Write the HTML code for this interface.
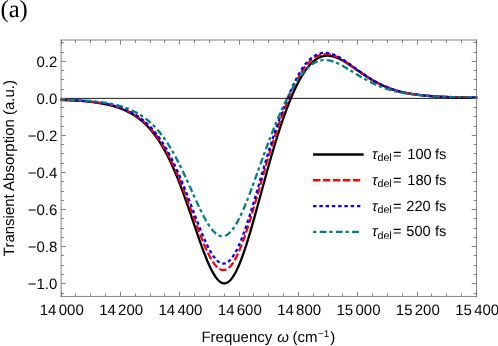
<!DOCTYPE html>
<html><head><meta charset="utf-8"><title>fig</title><style>
html,body{margin:0;padding:0;background:#fff;}
body{width:498px;height:346px;overflow:hidden;position:relative;}
svg{position:absolute;left:0;top:0;will-change:transform;}
text{font-family:"Liberation Sans",sans-serif;fill:#000;text-rendering:geometricPrecision;}
.tk{font-size:15px;}
.lg{font-size:14.6px;}
.ax{font-size:15px;}
.ser{font-family:"Liberation Serif",serif;}
</style></head><body>
<svg width="498" height="346" viewBox="0 0 498 346">
<rect x="0" y="0" width="498" height="346" fill="#fff"/>
<text class="ser" x="0.5" y="17.1" font-size="24.6">(a)</text>
<defs><clipPath id="cp"><rect x="59.949999999999996" y="40.0" width="417.55" height="256.45"/></clipPath></defs>
<g clip-path="url(#cp)" fill="none" stroke-linejoin="round">
<path d="M59.65,99.92 L60.15,99.94 L60.65,99.95 L61.15,99.96 L61.65,99.98 L62.15,99.99 L62.65,100.01 L63.15,100.02 L63.65,100.04 L64.15,100.05 L64.65,100.07 L65.15,100.09 L65.65,100.11 L66.15,100.12 L66.65,100.14 L67.15,100.16 L67.65,100.18 L68.15,100.20 L68.65,100.22 L69.15,100.24 L69.65,100.26 L70.15,100.28 L70.65,100.31 L71.15,100.33 L71.65,100.35 L72.15,100.38 L72.65,100.40 L73.15,100.43 L73.65,100.45 L74.15,100.48 L74.65,100.51 L75.15,100.54 L75.65,100.57 L76.15,100.60 L76.65,100.63 L77.15,100.66 L77.65,100.69 L78.15,100.72 L78.65,100.75 L79.15,100.79 L79.65,100.82 L80.15,100.86 L80.65,100.90 L81.15,100.93 L81.65,100.97 L82.15,101.01 L82.65,101.05 L83.15,101.09 L83.65,101.14 L84.15,101.18 L84.65,101.22 L85.15,101.27 L85.65,101.32 L86.15,101.36 L86.65,101.41 L87.15,101.46 L87.65,101.52 L88.15,101.57 L88.65,101.62 L89.15,101.68 L89.65,101.73 L90.15,101.79 L90.65,101.85 L91.15,101.91 L91.65,101.97 L92.15,102.03 L92.65,102.09 L93.15,102.16 L93.65,102.22 L94.15,102.29 L94.65,102.36 L95.15,102.43 L95.65,102.50 L96.15,102.57 L96.65,102.65 L97.15,102.72 L97.65,102.80 L98.15,102.88 L98.65,102.96 L99.15,103.04 L99.65,103.12 L100.15,103.21 L100.65,103.29 L101.15,103.38 L101.65,103.47 L102.15,103.56 L102.65,103.65 L103.15,103.75 L103.65,103.84 L104.15,103.94 L104.65,104.04 L105.15,104.15 L105.65,104.25 L106.15,104.36 L106.65,104.47 L107.15,104.58 L107.65,104.69 L108.15,104.81 L108.65,104.92 L109.15,105.04 L109.65,105.17 L110.15,105.29 L110.65,105.42 L111.15,105.55 L111.65,105.68 L112.15,105.81 L112.65,105.95 L113.15,106.09 L113.65,106.23 L114.15,106.38 L114.65,106.53 L115.15,106.68 L115.65,106.84 L116.15,106.99 L116.65,107.15 L117.15,107.32 L117.65,107.48 L118.15,107.65 L118.65,107.83 L119.15,108.01 L119.65,108.19 L120.15,108.37 L120.65,108.56 L121.15,108.75 L121.65,108.95 L122.15,109.14 L122.65,109.35 L123.15,109.55 L123.65,109.77 L124.15,109.98 L124.65,110.20 L125.15,110.42 L125.65,110.65 L126.15,110.88 L126.65,111.12 L127.15,111.36 L127.65,111.61 L128.15,111.86 L128.65,112.12 L129.15,112.38 L129.65,112.64 L130.15,112.91 L130.65,113.19 L131.15,113.47 L131.65,113.76 L132.15,114.05 L132.65,114.35 L133.15,114.66 L133.65,114.97 L134.15,115.28 L134.65,115.60 L135.15,115.93 L135.65,116.27 L136.15,116.61 L136.65,116.95 L137.15,117.31 L137.65,117.67 L138.15,118.03 L138.65,118.41 L139.15,118.79 L139.65,119.18 L140.15,119.57 L140.65,119.97 L141.15,120.38 L141.65,120.80 L142.15,121.23 L142.65,121.66 L143.15,122.10 L143.65,122.55 L144.15,123.01 L144.65,123.47 L145.15,123.95 L145.65,124.43 L146.15,124.92 L146.65,125.42 L147.15,125.93 L147.65,126.45 L148.15,126.98 L148.65,127.52 L149.15,128.06 L149.65,128.62 L150.15,129.18 L150.65,129.76 L151.15,130.35 L151.65,130.94 L152.15,131.55 L152.65,132.16 L153.15,132.79 L153.65,133.43 L154.15,134.08 L154.65,134.74 L155.15,135.41 L155.65,136.09 L156.15,136.78 L156.65,137.48 L157.15,138.20 L157.65,138.92 L158.15,139.66 L158.65,140.41 L159.15,141.18 L159.65,141.95 L160.15,142.74 L160.65,143.53 L161.15,144.35 L161.65,145.17 L162.15,146.00 L162.65,146.85 L163.15,147.71 L163.65,148.59 L164.15,149.47 L164.65,150.37 L165.15,151.29 L165.65,152.21 L166.15,153.15 L166.65,154.10 L167.15,155.07 L167.65,156.05 L168.15,157.04 L168.65,158.04 L169.15,159.06 L169.65,160.09 L170.15,161.14 L170.65,162.20 L171.15,163.27 L171.65,164.36 L172.15,165.45 L172.65,166.57 L173.15,167.69 L173.65,168.83 L174.15,169.98 L174.65,171.14 L175.15,172.32 L175.65,173.51 L176.15,174.71 L176.65,175.93 L177.15,177.16 L177.65,178.40 L178.15,179.65 L178.65,180.92 L179.15,182.19 L179.65,183.48 L180.15,184.78 L180.65,186.09 L181.15,187.41 L181.65,188.75 L182.15,190.09 L182.65,191.44 L183.15,192.81 L183.65,194.18 L184.15,195.57 L184.65,196.96 L185.15,198.36 L185.65,199.77 L186.15,201.18 L186.65,202.61 L187.15,204.04 L187.65,205.48 L188.15,206.92 L188.65,208.37 L189.15,209.83 L189.65,211.29 L190.15,212.75 L190.65,214.22 L191.15,215.69 L191.65,217.17 L192.15,218.65 L192.65,220.12 L193.15,221.60 L193.65,223.08 L194.15,224.56 L194.65,226.04 L195.15,227.51 L195.65,228.99 L196.15,230.46 L196.65,231.92 L197.15,233.38 L197.65,234.84 L198.15,236.29 L198.65,237.73 L199.15,239.17 L199.65,240.60 L200.15,242.01 L200.65,243.42 L201.15,244.82 L201.65,246.20 L202.15,247.58 L202.65,248.93 L203.15,250.28 L203.65,251.61 L204.15,252.92 L204.65,254.22 L205.15,255.49 L205.65,256.76 L206.15,258.00 L206.65,259.23 L207.15,260.44 L207.65,261.62 L208.15,262.79 L208.65,263.93 L209.15,265.05 L209.65,266.15 L210.15,267.22 L210.65,268.26 L211.15,269.28 L211.65,270.26 L212.15,271.22 L212.65,272.14 L213.15,273.03 L213.65,273.89 L214.15,274.71 L214.65,275.51 L215.15,276.26 L215.65,276.99 L216.15,277.67 L216.65,278.33 L217.15,278.94 L217.65,279.52 L218.15,280.06 L218.65,280.56 L219.15,281.02 L219.65,281.44 L220.15,281.82 L220.65,282.16 L221.15,282.46 L221.65,282.71 L222.15,282.92 L222.65,283.09 L223.15,283.22 L223.65,283.30 L224.15,283.33 L224.65,283.32 L225.15,283.27 L225.65,283.17 L226.15,283.02 L226.65,282.83 L227.15,282.60 L227.65,282.33 L228.15,282.00 L228.65,281.64 L229.15,281.23 L229.65,280.78 L230.15,280.29 L230.65,279.76 L231.15,279.18 L231.65,278.56 L232.15,277.91 L232.65,277.21 L233.15,276.47 L233.65,275.70 L234.15,274.88 L234.65,274.03 L235.15,273.14 L235.65,272.21 L236.15,271.24 L236.65,270.23 L237.15,269.19 L237.65,268.12 L238.15,267.01 L238.65,265.86 L239.15,264.69 L239.65,263.48 L240.15,262.24 L240.65,260.98 L241.15,259.68 L241.65,258.36 L242.15,257.01 L242.65,255.64 L243.15,254.24 L243.65,252.82 L244.15,251.37 L244.65,249.90 L245.15,248.40 L245.65,246.88 L246.15,245.34 L246.65,243.78 L247.15,242.20 L247.65,240.60 L248.15,238.98 L248.65,237.34 L249.15,235.68 L249.65,234.01 L250.15,232.32 L250.65,230.62 L251.15,228.91 L251.65,227.18 L252.15,225.44 L252.65,223.69 L253.15,221.93 L253.65,220.15 L254.15,218.37 L254.65,216.58 L255.15,214.79 L255.65,212.98 L256.15,211.17 L256.65,209.36 L257.15,207.54 L257.65,205.71 L258.15,203.88 L258.65,202.05 L259.15,200.22 L259.65,198.38 L260.15,196.55 L260.65,194.71 L261.15,192.88 L261.65,191.04 L262.15,189.21 L262.65,187.38 L263.15,185.55 L263.65,183.72 L264.15,181.90 L264.65,180.08 L265.15,178.26 L265.65,176.45 L266.15,174.65 L266.65,172.85 L267.15,171.06 L267.65,169.27 L268.15,167.49 L268.65,165.72 L269.15,163.95 L269.65,162.19 L270.15,160.45 L270.65,158.71 L271.15,156.97 L271.65,155.25 L272.15,153.54 L272.65,151.84 L273.15,150.14 L273.65,148.46 L274.15,146.79 L274.65,145.13 L275.15,143.48 L275.65,141.84 L276.15,140.22 L276.65,138.60 L277.15,137.00 L277.65,135.41 L278.15,133.83 L278.65,132.26 L279.15,130.71 L279.65,129.17 L280.15,127.65 L280.65,126.13 L281.15,124.63 L281.65,123.15 L282.15,121.68 L282.65,120.22 L283.15,118.77 L283.65,117.34 L284.15,115.93 L284.65,114.53 L285.15,113.14 L285.65,111.77 L286.15,110.41 L286.65,109.07 L287.15,107.75 L287.65,106.43 L288.15,105.14 L288.65,103.86 L289.15,102.59 L289.65,101.34 L290.15,100.11 L290.65,98.89 L291.15,97.69 L291.65,96.51 L292.15,95.34 L292.65,94.18 L293.15,93.05 L293.65,91.93 L294.15,90.82 L294.65,89.74 L295.15,88.67 L295.65,87.61 L296.15,86.58 L296.65,85.56 L297.15,84.55 L297.65,83.57 L298.15,82.60 L298.65,81.65 L299.15,80.71 L299.65,79.79 L300.15,78.89 L300.65,78.01 L301.15,77.14 L301.65,76.30 L302.15,75.47 L302.65,74.65 L303.15,73.86 L303.65,73.08 L304.15,72.32 L304.65,71.57 L305.15,70.85 L305.65,70.14 L306.15,69.45 L306.65,68.78 L307.15,68.12 L307.65,67.49 L308.15,66.87 L308.65,66.26 L309.15,65.68 L309.65,65.11 L310.15,64.56 L310.65,64.03 L311.15,63.52 L311.65,63.02 L312.15,62.54 L312.65,62.08 L313.15,61.63 L313.65,61.20 L314.15,60.79 L314.65,60.39 L315.15,60.02 L315.65,59.66 L316.15,59.31 L316.65,58.98 L317.15,58.67 L317.65,58.38 L318.15,58.10 L318.65,57.84 L319.15,57.59 L319.65,57.36 L320.15,57.15 L320.65,56.95 L321.15,56.76 L321.65,56.59 L322.15,56.44 L322.65,56.30 L323.15,56.18 L323.65,56.07 L324.15,55.97 L324.65,55.89 L325.15,55.82 L325.65,55.77 L326.15,55.73 L326.65,55.70 L327.15,55.69 L327.65,55.69 L328.15,55.70 L328.65,55.73 L329.15,55.77 L329.65,55.82 L330.15,55.88 L330.65,55.95 L331.15,56.04 L331.65,56.13 L332.15,56.24 L332.65,56.35 L333.15,56.48 L333.65,56.62 L334.15,56.77 L334.65,56.93 L335.15,57.09 L335.65,57.27 L336.15,57.45 L336.65,57.65 L337.15,57.85 L337.65,58.06 L338.15,58.28 L338.65,58.50 L339.15,58.74 L339.65,58.98 L340.15,59.23 L340.65,59.48 L341.15,59.74 L341.65,60.01 L342.15,60.28 L342.65,60.56 L343.15,60.84 L343.65,61.13 L344.15,61.43 L344.65,61.73 L345.15,62.03 L345.65,62.34 L346.15,62.65 L346.65,62.96 L347.15,63.28 L347.65,63.61 L348.15,63.93 L348.65,64.26 L349.15,64.59 L349.65,64.93 L350.15,65.26 L350.65,65.60 L351.15,65.94 L351.65,66.29 L352.15,66.63 L352.65,66.98 L353.15,67.32 L353.65,67.67 L354.15,68.02 L354.65,68.37 L355.15,68.72 L355.65,69.07 L356.15,69.42 L356.65,69.77 L357.15,70.12 L357.65,70.47 L358.15,70.82 L358.65,71.17 L359.15,71.52 L359.65,71.86 L360.15,72.21 L360.65,72.56 L361.15,72.90 L361.65,73.24 L362.15,73.59 L362.65,73.93 L363.15,74.27 L363.65,74.60 L364.15,74.94 L364.65,75.27 L365.15,75.60 L365.65,75.93 L366.15,76.26 L366.65,76.58 L367.15,76.91 L367.65,77.23 L368.15,77.55 L368.65,77.86 L369.15,78.17 L369.65,78.48 L370.15,78.79 L370.65,79.10 L371.15,79.40 L371.65,79.70 L372.15,80.00 L372.65,80.29 L373.15,80.58 L373.65,80.87 L374.15,81.15 L374.65,81.43 L375.15,81.71 L375.65,81.99 L376.15,82.26 L376.65,82.53 L377.15,82.80 L377.65,83.06 L378.15,83.32 L378.65,83.58 L379.15,83.83 L379.65,84.08 L380.15,84.33 L380.65,84.58 L381.15,84.82 L381.65,85.06 L382.15,85.29 L382.65,85.52 L383.15,85.75 L383.65,85.98 L384.15,86.20 L384.65,86.42 L385.15,86.63 L385.65,86.85 L386.15,87.06 L386.65,87.26 L387.15,87.47 L387.65,87.67 L388.15,87.87 L388.65,88.06 L389.15,88.25 L389.65,88.44 L390.15,88.63 L390.65,88.81 L391.15,88.99 L391.65,89.17 L392.15,89.35 L392.65,89.52 L393.15,89.69 L393.65,89.85 L394.15,90.02 L394.65,90.18 L395.15,90.34 L395.65,90.49 L396.15,90.64 L396.65,90.79 L397.15,90.93 L397.65,91.08 L398.15,91.21 L398.65,91.35 L399.15,91.48 L399.65,91.61 L400.15,91.74 L400.65,91.86 L401.15,91.98 L401.65,92.10 L402.15,92.21 L402.65,92.32 L403.15,92.43 L403.65,92.54 L404.15,92.64 L404.65,92.75 L405.15,92.85 L405.65,92.94 L406.15,93.04 L406.65,93.13 L407.15,93.22 L407.65,93.31 L408.15,93.40 L408.65,93.49 L409.15,93.57 L409.65,93.65 L410.15,93.73 L410.65,93.81 L411.15,93.89 L411.65,93.96 L412.15,94.04 L412.65,94.11 L413.15,94.18 L413.65,94.25 L414.15,94.32 L414.65,94.39 L415.15,94.46 L415.65,94.53 L416.15,94.59 L416.65,94.66 L417.15,94.72 L417.65,94.78 L418.15,94.85 L418.65,94.91 L419.15,94.97 L419.65,95.03 L420.15,95.09 L420.65,95.15 L421.15,95.21 L421.65,95.27 L422.15,95.32 L422.65,95.38 L423.15,95.43 L423.65,95.49 L424.15,95.54 L424.65,95.59 L425.15,95.64 L425.65,95.69 L426.15,95.73 L426.65,95.78 L427.15,95.83 L427.65,95.87 L428.15,95.91 L428.65,95.96 L429.15,96.00 L429.65,96.04 L430.15,96.08 L430.65,96.12 L431.15,96.16 L431.65,96.20 L432.15,96.23 L432.65,96.27 L433.15,96.30 L433.65,96.34 L434.15,96.37 L434.65,96.41 L435.15,96.44 L435.65,96.47 L436.15,96.50 L436.65,96.53 L437.15,96.56 L437.65,96.59 L438.15,96.62 L438.65,96.65 L439.15,96.68 L439.65,96.70 L440.15,96.73 L440.65,96.75 L441.15,96.78 L441.65,96.80 L442.15,96.83 L442.65,96.85 L443.15,96.87 L443.65,96.90 L444.15,96.92 L444.65,96.94 L445.15,96.96 L445.65,96.98 L446.15,97.00 L446.65,97.02 L447.15,97.04 L447.65,97.06 L448.15,97.08 L448.65,97.10 L449.15,97.12 L449.65,97.13 L450.15,97.15 L450.65,97.17 L451.15,97.18 L451.65,97.20 L452.15,97.21 L452.65,97.23 L453.15,97.25 L453.65,97.26 L454.15,97.27 L454.65,97.29 L455.15,97.30 L455.65,97.32 L456.15,97.33 L456.65,97.34 L457.15,97.35 L457.65,97.37 L458.15,97.38 L458.65,97.39 L459.15,97.40 L459.65,97.41 L460.15,97.42 L460.65,97.44 L461.15,97.45 L461.65,97.46 L462.15,97.47 L462.65,97.48 L463.15,97.49 L463.65,97.50 L464.15,97.51 L464.65,97.51 L465.15,97.52 L465.65,97.53 L466.15,97.54 L466.65,97.55 L467.15,97.56 L467.65,97.57 L468.15,97.57 L468.65,97.58 L469.15,97.59 L469.65,97.60 L470.15,97.60 L470.65,97.61 L471.15,97.62 L471.65,97.62 L472.15,97.63 L472.65,97.64 L473.15,97.64 L473.65,97.65 L474.15,97.66 L474.65,97.66 L475.15,97.67 L475.65,97.67 L476.15,97.68 L476.65,97.69 L477.15,97.69 L477.65,97.70" stroke="#000000" stroke-width="2.3" stroke-dashoffset="0" stroke-linecap="butt"/>
<path d="M59.65,99.83 L60.15,99.85 L60.65,99.86 L61.15,99.87 L61.65,99.89 L62.15,99.90 L62.65,99.91 L63.15,99.93 L63.65,99.94 L64.15,99.96 L64.65,99.97 L65.15,99.99 L65.65,100.01 L66.15,100.02 L66.65,100.04 L67.15,100.06 L67.65,100.08 L68.15,100.09 L68.65,100.11 L69.15,100.13 L69.65,100.15 L70.15,100.17 L70.65,100.19 L71.15,100.21 L71.65,100.24 L72.15,100.26 L72.65,100.28 L73.15,100.31 L73.65,100.33 L74.15,100.36 L74.65,100.38 L75.15,100.41 L75.65,100.43 L76.15,100.46 L76.65,100.49 L77.15,100.52 L77.65,100.55 L78.15,100.58 L78.65,100.61 L79.15,100.64 L79.65,100.68 L80.15,100.71 L80.65,100.75 L81.15,100.78 L81.65,100.82 L82.15,100.86 L82.65,100.89 L83.15,100.93 L83.65,100.97 L84.15,101.01 L84.65,101.06 L85.15,101.10 L85.65,101.14 L86.15,101.19 L86.65,101.24 L87.15,101.28 L87.65,101.33 L88.15,101.38 L88.65,101.43 L89.15,101.49 L89.65,101.54 L90.15,101.59 L90.65,101.65 L91.15,101.71 L91.65,101.77 L92.15,101.83 L92.65,101.89 L93.15,101.95 L93.65,102.01 L94.15,102.07 L94.65,102.14 L95.15,102.21 L95.65,102.27 L96.15,102.34 L96.65,102.41 L97.15,102.49 L97.65,102.56 L98.15,102.63 L98.65,102.71 L99.15,102.79 L99.65,102.87 L100.15,102.95 L100.65,103.03 L101.15,103.12 L101.65,103.20 L102.15,103.29 L102.65,103.38 L103.15,103.47 L103.65,103.56 L104.15,103.66 L104.65,103.75 L105.15,103.85 L105.65,103.95 L106.15,104.05 L106.65,104.16 L107.15,104.27 L107.65,104.37 L108.15,104.49 L108.65,104.60 L109.15,104.71 L109.65,104.83 L110.15,104.95 L110.65,105.07 L111.15,105.20 L111.65,105.33 L112.15,105.46 L112.65,105.59 L113.15,105.72 L113.65,105.86 L114.15,106.00 L114.65,106.14 L115.15,106.29 L115.65,106.44 L116.15,106.59 L116.65,106.74 L117.15,106.90 L117.65,107.06 L118.15,107.23 L118.65,107.40 L119.15,107.57 L119.65,107.74 L120.15,107.92 L120.65,108.10 L121.15,108.28 L121.65,108.47 L122.15,108.66 L122.65,108.86 L123.15,109.06 L123.65,109.26 L124.15,109.47 L124.65,109.68 L125.15,109.90 L125.65,110.12 L126.15,110.34 L126.65,110.57 L127.15,110.81 L127.65,111.04 L128.15,111.29 L128.65,111.53 L129.15,111.79 L129.65,112.04 L130.15,112.30 L130.65,112.57 L131.15,112.84 L131.65,113.12 L132.15,113.40 L132.65,113.69 L133.15,113.99 L133.65,114.29 L134.15,114.59 L134.65,114.90 L135.15,115.22 L135.65,115.54 L136.15,115.87 L136.65,116.21 L137.15,116.55 L137.65,116.90 L138.15,117.25 L138.65,117.61 L139.15,117.98 L139.65,118.35 L140.15,118.74 L140.65,119.13 L141.15,119.52 L141.65,119.93 L142.15,120.34 L142.65,120.76 L143.15,121.18 L143.65,121.62 L144.15,122.06 L144.65,122.51 L145.15,122.97 L145.65,123.43 L146.15,123.91 L146.65,124.39 L147.15,124.88 L147.65,125.38 L148.15,125.89 L148.65,126.41 L149.15,126.94 L149.65,127.47 L150.15,128.02 L150.65,128.58 L151.15,129.14 L151.65,129.72 L152.15,130.30 L152.65,130.89 L153.15,131.50 L153.65,132.11 L154.15,132.74 L154.65,133.37 L155.15,134.02 L155.65,134.67 L156.15,135.34 L156.65,136.02 L157.15,136.71 L157.65,137.41 L158.15,138.12 L158.65,138.84 L159.15,139.57 L159.65,140.32 L160.15,141.08 L160.65,141.84 L161.15,142.62 L161.65,143.41 L162.15,144.22 L162.65,145.03 L163.15,145.86 L163.65,146.70 L164.15,147.55 L164.65,148.41 L165.15,149.29 L165.65,150.18 L166.15,151.08 L166.65,151.99 L167.15,152.91 L167.65,153.85 L168.15,154.80 L168.65,155.76 L169.15,156.73 L169.65,157.72 L170.15,158.72 L170.65,159.73 L171.15,160.76 L171.65,161.79 L172.15,162.84 L172.65,163.90 L173.15,164.97 L173.65,166.06 L174.15,167.16 L174.65,168.26 L175.15,169.39 L175.65,170.52 L176.15,171.66 L176.65,172.82 L177.15,173.98 L177.65,175.16 L178.15,176.35 L178.65,177.55 L179.15,178.76 L179.65,179.98 L180.15,181.21 L180.65,182.45 L181.15,183.71 L181.65,184.97 L182.15,186.24 L182.65,187.51 L183.15,188.80 L183.65,190.10 L184.15,191.40 L184.65,192.71 L185.15,194.03 L185.65,195.36 L186.15,196.69 L186.65,198.03 L187.15,199.37 L187.65,200.72 L188.15,202.07 L188.65,203.43 L189.15,204.79 L189.65,206.16 L190.15,207.53 L190.65,208.90 L191.15,210.27 L191.65,211.65 L192.15,213.02 L192.65,214.40 L193.15,215.77 L193.65,217.15 L194.15,218.52 L194.65,219.89 L195.15,221.25 L195.65,222.62 L196.15,223.98 L196.65,225.33 L197.15,226.68 L197.65,228.02 L198.15,229.35 L198.65,230.68 L199.15,232.00 L199.65,233.31 L200.15,234.60 L200.65,235.89 L201.15,237.17 L201.65,238.43 L202.15,239.68 L202.65,240.92 L203.15,242.14 L203.65,243.34 L204.15,244.53 L204.65,245.70 L205.15,246.86 L205.65,247.99 L206.15,249.11 L206.65,250.20 L207.15,251.27 L207.65,252.32 L208.15,253.35 L208.65,254.36 L209.15,255.34 L209.65,256.29 L210.15,257.22 L210.65,258.12 L211.15,258.99 L211.65,259.84 L212.15,260.66 L212.65,261.44 L213.15,262.20 L213.65,262.93 L214.15,263.62 L214.65,264.28 L215.15,264.91 L215.65,265.51 L216.15,266.07 L216.65,266.60 L217.15,267.09 L217.65,267.54 L218.15,267.96 L218.65,268.35 L219.15,268.69 L219.65,269.00 L220.15,269.27 L220.65,269.51 L221.15,269.70 L221.65,269.86 L222.15,269.97 L222.65,270.05 L223.15,270.09 L223.65,270.09 L224.15,270.05 L224.65,269.97 L225.15,269.85 L225.65,269.69 L226.15,269.49 L226.65,269.25 L227.15,268.97 L227.65,268.65 L228.15,268.29 L228.65,267.89 L229.15,267.46 L229.65,266.98 L230.15,266.47 L230.65,265.91 L231.15,265.32 L231.65,264.69 L232.15,264.02 L232.65,263.32 L233.15,262.58 L233.65,261.80 L234.15,260.99 L234.65,260.14 L235.15,259.25 L235.65,258.34 L236.15,257.38 L236.65,256.40 L237.15,255.38 L237.65,254.33 L238.15,253.25 L238.65,252.14 L239.15,251.00 L239.65,249.82 L240.15,248.62 L240.65,247.39 L241.15,246.14 L241.65,244.86 L242.15,243.55 L242.65,242.21 L243.15,240.86 L243.65,239.47 L244.15,238.07 L244.65,236.64 L245.15,235.19 L245.65,233.72 L246.15,232.24 L246.65,230.73 L247.15,229.20 L247.65,227.66 L248.15,226.10 L248.65,224.52 L249.15,222.93 L249.65,221.32 L250.15,219.70 L250.65,218.06 L251.15,216.42 L251.65,214.76 L252.15,213.09 L252.65,211.41 L253.15,209.73 L253.65,208.03 L254.15,206.32 L254.65,204.61 L255.15,202.89 L255.65,201.17 L256.15,199.44 L256.65,197.70 L257.15,195.96 L257.65,194.22 L258.15,192.47 L258.65,190.73 L259.15,188.98 L259.65,187.23 L260.15,185.48 L260.65,183.72 L261.15,181.97 L261.65,180.22 L262.15,178.48 L262.65,176.73 L263.15,174.99 L263.65,173.25 L264.15,171.51 L264.65,169.78 L265.15,168.05 L265.65,166.34 L266.15,164.63 L266.65,162.92 L267.15,161.23 L267.65,159.54 L268.15,157.86 L268.65,156.19 L269.15,154.53 L269.65,152.87 L270.15,151.23 L270.65,149.59 L271.15,147.97 L271.65,146.35 L272.15,144.74 L272.65,143.14 L273.15,141.56 L273.65,139.98 L274.15,138.41 L274.65,136.86 L275.15,135.31 L275.65,133.79 L276.15,132.27 L276.65,130.77 L277.15,129.28 L277.65,127.81 L278.15,126.34 L278.65,124.90 L279.15,123.46 L279.65,122.04 L280.15,120.63 L280.65,119.23 L281.15,117.85 L281.65,116.48 L282.15,115.12 L282.65,113.78 L283.15,112.44 L283.65,111.13 L284.15,109.83 L284.65,108.55 L285.15,107.29 L285.65,106.04 L286.15,104.80 L286.65,103.57 L287.15,102.36 L287.65,101.15 L288.15,99.95 L288.65,98.76 L289.15,97.57 L289.65,96.39 L290.15,95.21 L290.65,94.04 L291.15,92.88 L291.65,91.72 L292.15,90.58 L292.65,89.45 L293.15,88.33 L293.65,87.22 L294.15,86.13 L294.65,85.06 L295.15,84.01 L295.65,82.97 L296.15,81.96 L296.65,80.96 L297.15,79.99 L297.65,79.04 L298.15,78.10 L298.65,77.18 L299.15,76.27 L299.65,75.38 L300.15,74.50 L300.65,73.65 L301.15,72.81 L301.65,71.99 L302.15,71.19 L302.65,70.41 L303.15,69.65 L303.65,68.91 L304.15,68.20 L304.65,67.50 L305.15,66.83 L305.65,66.18 L306.15,65.56 L306.65,64.95 L307.15,64.36 L307.65,63.79 L308.15,63.24 L308.65,62.70 L309.15,62.18 L309.65,61.68 L310.15,61.19 L310.65,60.72 L311.15,60.27 L311.65,59.84 L312.15,59.42 L312.65,59.02 L313.15,58.63 L313.65,58.27 L314.15,57.92 L314.65,57.58 L315.15,57.26 L315.65,56.96 L316.15,56.67 L316.65,56.40 L317.15,56.15 L317.65,55.91 L318.15,55.69 L318.65,55.48 L319.15,55.29 L319.65,55.11 L320.15,54.95 L320.65,54.80 L321.15,54.67 L321.65,54.55 L322.15,54.44 L322.65,54.35 L323.15,54.28 L323.65,54.22 L324.15,54.17 L324.65,54.13 L325.15,54.11 L325.65,54.10 L326.15,54.11 L326.65,54.13 L327.15,54.15 L327.65,54.20 L328.15,54.25 L328.65,54.32 L329.15,54.39 L329.65,54.48 L330.15,54.58 L330.65,54.69 L331.15,54.81 L331.65,54.94 L332.15,55.08 L332.65,55.23 L333.15,55.39 L333.65,55.56 L334.15,55.74 L334.65,55.93 L335.15,56.13 L335.65,56.33 L336.15,56.55 L336.65,56.77 L337.15,57.00 L337.65,57.24 L338.15,57.48 L338.65,57.73 L339.15,57.99 L339.65,58.25 L340.15,58.52 L340.65,58.80 L341.15,59.08 L341.65,59.37 L342.15,59.66 L342.65,59.96 L343.15,60.27 L343.65,60.57 L344.15,60.89 L344.65,61.20 L345.15,61.52 L345.65,61.85 L346.15,62.17 L346.65,62.51 L347.15,62.84 L347.65,63.18 L348.15,63.52 L348.65,63.86 L349.15,64.20 L349.65,64.55 L350.15,64.90 L350.65,65.25 L351.15,65.60 L351.65,65.95 L352.15,66.31 L352.65,66.66 L353.15,67.02 L353.65,67.37 L354.15,67.73 L354.65,68.09 L355.15,68.45 L355.65,68.80 L356.15,69.16 L356.65,69.52 L357.15,69.87 L357.65,70.23 L358.15,70.59 L358.65,70.94 L359.15,71.29 L359.65,71.65 L360.15,72.00 L360.65,72.35 L361.15,72.70 L361.65,73.05 L362.15,73.39 L362.65,73.74 L363.15,74.08 L363.65,74.42 L364.15,74.76 L364.65,75.09 L365.15,75.43 L365.65,75.76 L366.15,76.09 L366.65,76.42 L367.15,76.74 L367.65,77.06 L368.15,77.38 L368.65,77.70 L369.15,78.02 L369.65,78.33 L370.15,78.64 L370.65,78.95 L371.15,79.25 L371.65,79.55 L372.15,79.85 L372.65,80.14 L373.15,80.43 L373.65,80.72 L374.15,81.01 L374.65,81.29 L375.15,81.57 L375.65,81.85 L376.15,82.12 L376.65,82.39 L377.15,82.66 L377.65,82.92 L378.15,83.19 L378.65,83.44 L379.15,83.70 L379.65,83.95 L380.15,84.20 L380.65,84.44 L381.15,84.68 L381.65,84.92 L382.15,85.16 L382.65,85.39 L383.15,85.62 L383.65,85.85 L384.15,86.07 L384.65,86.29 L385.15,86.51 L385.65,86.72 L386.15,86.93 L386.65,87.14 L387.15,87.34 L387.65,87.54 L388.15,87.74 L388.65,87.94 L389.15,88.13 L389.65,88.32 L390.15,88.51 L390.65,88.69 L391.15,88.87 L391.65,89.05 L392.15,89.22 L392.65,89.40 L393.15,89.57 L393.65,89.73 L394.15,89.90 L394.65,90.06 L395.15,90.22 L395.65,90.37 L396.15,90.52 L396.65,90.67 L397.15,90.82 L397.65,90.96 L398.15,91.10 L398.65,91.23 L399.15,91.37 L399.65,91.50 L400.15,91.62 L400.65,91.75 L401.15,91.87 L401.65,91.99 L402.15,92.10 L402.65,92.21 L403.15,92.32 L403.65,92.43 L404.15,92.54 L404.65,92.64 L405.15,92.74 L405.65,92.84 L406.15,92.93 L406.65,93.03 L407.15,93.12 L407.65,93.21 L408.15,93.30 L408.65,93.38 L409.15,93.47 L409.65,93.55 L410.15,93.63 L410.65,93.71 L411.15,93.79 L411.65,93.87 L412.15,93.94 L412.65,94.02 L413.15,94.09 L413.65,94.16 L414.15,94.23 L414.65,94.30 L415.15,94.37 L415.65,94.44 L416.15,94.50 L416.65,94.57 L417.15,94.63 L417.65,94.70 L418.15,94.76 L418.65,94.82 L419.15,94.89 L419.65,94.95 L420.15,95.01 L420.65,95.07 L421.15,95.13 L421.65,95.19 L422.15,95.24 L422.65,95.30 L423.15,95.35 L423.65,95.41 L424.15,95.46 L424.65,95.51 L425.15,95.56 L425.65,95.61 L426.15,95.66 L426.65,95.71 L427.15,95.75 L427.65,95.80 L428.15,95.84 L428.65,95.89 L429.15,95.93 L429.65,95.97 L430.15,96.01 L430.65,96.05 L431.15,96.09 L431.65,96.13 L432.15,96.17 L432.65,96.20 L433.15,96.24 L433.65,96.28 L434.15,96.31 L434.65,96.34 L435.15,96.38 L435.65,96.41 L436.15,96.44 L436.65,96.47 L437.15,96.50 L437.65,96.53 L438.15,96.56 L438.65,96.59 L439.15,96.62 L439.65,96.65 L440.15,96.67 L440.65,96.70 L441.15,96.72 L441.65,96.75 L442.15,96.77 L442.65,96.80 L443.15,96.82 L443.65,96.85 L444.15,96.87 L444.65,96.89 L445.15,96.91 L445.65,96.93 L446.15,96.95 L446.65,96.97 L447.15,96.99 L447.65,97.01 L448.15,97.03 L448.65,97.05 L449.15,97.07 L449.65,97.09 L450.15,97.11 L450.65,97.12 L451.15,97.14 L451.65,97.16 L452.15,97.17 L452.65,97.19 L453.15,97.20 L453.65,97.22 L454.15,97.23 L454.65,97.25 L455.15,97.26 L455.65,97.28 L456.15,97.29 L456.65,97.30 L457.15,97.32 L457.65,97.33 L458.15,97.34 L458.65,97.35 L459.15,97.37 L459.65,97.38 L460.15,97.39 L460.65,97.40 L461.15,97.41 L461.65,97.42 L462.15,97.43 L462.65,97.44 L463.15,97.45 L463.65,97.46 L464.15,97.47 L464.65,97.48 L465.15,97.49 L465.65,97.50 L466.15,97.51 L466.65,97.52 L467.15,97.53 L467.65,97.53 L468.15,97.54 L468.65,97.55 L469.15,97.56 L469.65,97.57 L470.15,97.57 L470.65,97.58 L471.15,97.59 L471.65,97.60 L472.15,97.60 L472.65,97.61 L473.15,97.62 L473.65,97.62 L474.15,97.63 L474.65,97.64 L475.15,97.64 L475.65,97.65 L476.15,97.65 L476.65,97.66 L477.15,97.67 L477.65,97.67" stroke="#ff0000" stroke-width="2.3" stroke-dasharray="7.3 2.67" stroke-dashoffset="3.29" stroke-linecap="butt"/>
<path d="M59.65,99.82 L60.15,99.83 L60.65,99.85 L61.15,99.86 L61.65,99.87 L62.15,99.88 L62.65,99.90 L63.15,99.91 L63.65,99.93 L64.15,99.94 L64.65,99.96 L65.15,99.97 L65.65,99.99 L66.15,100.00 L66.65,100.02 L67.15,100.04 L67.65,100.05 L68.15,100.07 L68.65,100.09 L69.15,100.11 L69.65,100.13 L70.15,100.15 L70.65,100.17 L71.15,100.19 L71.65,100.21 L72.15,100.23 L72.65,100.25 L73.15,100.28 L73.65,100.30 L74.15,100.33 L74.65,100.35 L75.15,100.38 L75.65,100.40 L76.15,100.43 L76.65,100.46 L77.15,100.49 L77.65,100.51 L78.15,100.54 L78.65,100.57 L79.15,100.61 L79.65,100.64 L80.15,100.67 L80.65,100.70 L81.15,100.74 L81.65,100.77 L82.15,100.81 L82.65,100.85 L83.15,100.88 L83.65,100.92 L84.15,100.96 L84.65,101.00 L85.15,101.05 L85.65,101.09 L86.15,101.13 L86.65,101.18 L87.15,101.22 L87.65,101.27 L88.15,101.32 L88.65,101.37 L89.15,101.42 L89.65,101.47 L90.15,101.52 L90.65,101.58 L91.15,101.63 L91.65,101.69 L92.15,101.75 L92.65,101.81 L93.15,101.87 L93.65,101.93 L94.15,101.99 L94.65,102.05 L95.15,102.12 L95.65,102.18 L96.15,102.25 L96.65,102.32 L97.15,102.39 L97.65,102.46 L98.15,102.53 L98.65,102.60 L99.15,102.68 L99.65,102.75 L100.15,102.83 L100.65,102.91 L101.15,102.99 L101.65,103.07 L102.15,103.16 L102.65,103.24 L103.15,103.33 L103.65,103.42 L104.15,103.51 L104.65,103.61 L105.15,103.70 L105.65,103.80 L106.15,103.89 L106.65,104.00 L107.15,104.10 L107.65,104.20 L108.15,104.31 L108.65,104.42 L109.15,104.53 L109.65,104.64 L110.15,104.76 L110.65,104.87 L111.15,104.99 L111.65,105.11 L112.15,105.24 L112.65,105.37 L113.15,105.49 L113.65,105.63 L114.15,105.76 L114.65,105.90 L115.15,106.04 L115.65,106.18 L116.15,106.33 L116.65,106.47 L117.15,106.62 L117.65,106.78 L118.15,106.94 L118.65,107.10 L119.15,107.26 L119.65,107.43 L120.15,107.60 L120.65,107.77 L121.15,107.95 L121.65,108.13 L122.15,108.31 L122.65,108.50 L123.15,108.69 L123.65,108.88 L124.15,109.08 L124.65,109.28 L125.15,109.49 L125.65,109.70 L126.15,109.91 L126.65,110.13 L127.15,110.35 L127.65,110.58 L128.15,110.81 L128.65,111.05 L129.15,111.29 L129.65,111.53 L130.15,111.78 L130.65,112.04 L131.15,112.30 L131.65,112.56 L132.15,112.83 L132.65,113.10 L133.15,113.38 L133.65,113.67 L134.15,113.96 L134.65,114.26 L135.15,114.56 L135.65,114.87 L136.15,115.18 L136.65,115.50 L137.15,115.82 L137.65,116.15 L138.15,116.49 L138.65,116.84 L139.15,117.19 L139.65,117.54 L140.15,117.91 L140.65,118.28 L141.15,118.65 L141.65,119.04 L142.15,119.43 L142.65,119.83 L143.15,120.23 L143.65,120.65 L144.15,121.07 L144.65,121.49 L145.15,121.93 L145.65,122.37 L146.15,122.82 L146.65,123.28 L147.15,123.75 L147.65,124.23 L148.15,124.71 L148.65,125.20 L149.15,125.71 L149.65,126.22 L150.15,126.74 L150.65,127.26 L151.15,127.80 L151.65,128.35 L152.15,128.90 L152.65,129.47 L153.15,130.04 L153.65,130.63 L154.15,131.22 L154.65,131.83 L155.15,132.44 L155.65,133.06 L156.15,133.70 L156.65,134.34 L157.15,135.00 L157.65,135.66 L158.15,136.34 L158.65,137.03 L159.15,137.72 L159.65,138.43 L160.15,139.15 L160.65,139.88 L161.15,140.63 L161.65,141.38 L162.15,142.14 L162.65,142.92 L163.15,143.71 L163.65,144.50 L164.15,145.32 L164.65,146.14 L165.15,146.97 L165.65,147.82 L166.15,148.67 L166.65,149.54 L167.15,150.42 L167.65,151.32 L168.15,152.22 L168.65,153.14 L169.15,154.07 L169.65,155.01 L170.15,155.96 L170.65,156.93 L171.15,157.90 L171.65,158.89 L172.15,159.89 L172.65,160.91 L173.15,161.93 L173.65,162.97 L174.15,164.01 L174.65,165.07 L175.15,166.14 L175.65,167.23 L176.15,168.32 L176.65,169.42 L177.15,170.54 L177.65,171.67 L178.15,172.80 L178.65,173.95 L179.15,175.11 L179.65,176.28 L180.15,177.46 L180.65,178.65 L181.15,179.85 L181.65,181.05 L182.15,182.27 L182.65,183.50 L183.15,184.73 L183.65,185.97 L184.15,187.22 L184.65,188.48 L185.15,189.75 L185.65,191.02 L186.15,192.30 L186.65,193.59 L187.15,194.88 L187.65,196.18 L188.15,197.48 L188.65,198.79 L189.15,200.10 L189.65,201.41 L190.15,202.73 L190.65,204.05 L191.15,205.37 L191.65,206.70 L192.15,208.03 L192.65,209.35 L193.15,210.68 L193.65,212.00 L194.15,213.33 L194.65,214.65 L195.15,215.97 L195.65,217.29 L196.15,218.60 L196.65,219.91 L197.15,221.22 L197.65,222.52 L198.15,223.81 L198.65,225.09 L199.15,226.37 L199.65,227.64 L200.15,228.90 L200.65,230.15 L201.15,231.38 L201.65,232.61 L202.15,233.82 L202.65,235.02 L203.15,236.21 L203.65,237.38 L204.15,238.54 L204.65,239.68 L205.15,240.80 L205.65,241.90 L206.15,242.99 L206.65,244.06 L207.15,245.10 L207.65,246.13 L208.15,247.13 L208.65,248.11 L209.15,249.07 L209.65,250.00 L210.15,250.90 L210.65,251.79 L211.15,252.64 L211.65,253.47 L212.15,254.27 L212.65,255.04 L213.15,255.78 L213.65,256.49 L214.15,257.17 L214.65,257.82 L215.15,258.44 L215.65,259.02 L216.15,259.57 L216.65,260.09 L217.15,260.58 L217.65,261.03 L218.15,261.44 L218.65,261.82 L219.15,262.16 L219.65,262.47 L220.15,262.73 L220.65,262.96 L221.15,263.16 L221.65,263.31 L222.15,263.43 L222.65,263.51 L223.15,263.55 L223.65,263.55 L224.15,263.52 L224.65,263.44 L225.15,263.33 L225.65,263.17 L226.15,262.98 L226.65,262.75 L227.15,262.47 L227.65,262.16 L228.15,261.81 L228.65,261.42 L229.15,261.00 L229.65,260.53 L230.15,260.03 L230.65,259.48 L231.15,258.90 L231.65,258.29 L232.15,257.63 L232.65,256.94 L233.15,256.22 L233.65,255.45 L234.15,254.65 L234.65,253.82 L235.15,252.95 L235.65,252.05 L236.15,251.12 L236.65,250.15 L237.15,249.15 L237.65,248.12 L238.15,247.05 L238.65,245.96 L239.15,244.84 L239.65,243.68 L240.15,242.50 L240.65,241.29 L241.15,240.06 L241.65,238.80 L242.15,237.51 L242.65,236.19 L243.15,234.86 L243.65,233.50 L244.15,232.11 L244.65,230.71 L245.15,229.28 L245.65,227.83 L246.15,226.37 L246.65,224.88 L247.15,223.38 L247.65,221.86 L248.15,220.32 L248.65,218.77 L249.15,217.20 L249.65,215.61 L250.15,214.02 L250.65,212.41 L251.15,210.79 L251.65,209.15 L252.15,207.51 L252.65,205.85 L253.15,204.19 L253.65,202.52 L254.15,200.84 L254.65,199.15 L255.15,197.46 L255.65,195.76 L256.15,194.05 L256.65,192.34 L257.15,190.63 L257.65,188.91 L258.15,187.19 L258.65,185.47 L259.15,183.75 L259.65,182.02 L260.15,180.30 L260.65,178.57 L261.15,176.85 L261.65,175.12 L262.15,173.40 L262.65,171.68 L263.15,169.97 L263.65,168.27 L264.15,166.57 L264.65,164.87 L265.15,163.19 L265.65,161.51 L266.15,159.83 L266.65,158.17 L267.15,156.51 L267.65,154.86 L268.15,153.22 L268.65,151.58 L269.15,149.96 L269.65,148.34 L270.15,146.73 L270.65,145.13 L271.15,143.54 L271.65,141.96 L272.15,140.39 L272.65,138.82 L273.15,137.28 L273.65,135.74 L274.15,134.22 L274.65,132.71 L275.15,131.22 L275.65,129.74 L276.15,128.27 L276.65,126.81 L277.15,125.37 L277.65,123.94 L278.15,122.52 L278.65,121.11 L279.15,119.72 L279.65,118.34 L280.15,116.97 L280.65,115.61 L281.15,114.27 L281.65,112.94 L282.15,111.62 L282.65,110.31 L283.15,109.03 L283.65,107.76 L284.15,106.51 L284.65,105.27 L285.15,104.04 L285.65,102.83 L286.15,101.62 L286.65,100.42 L287.15,99.23 L287.65,98.04 L288.15,96.85 L288.65,95.67 L289.15,94.49 L289.65,93.32 L290.15,92.16 L290.65,91.00 L291.15,89.85 L291.65,88.71 L292.15,87.59 L292.65,86.48 L293.15,85.38 L293.65,84.30 L294.15,83.24 L294.65,82.19 L295.15,81.17 L295.65,80.17 L296.15,79.18 L296.65,78.22 L297.15,77.26 L297.65,76.32 L298.15,75.39 L298.65,74.48 L299.15,73.59 L299.65,72.71 L300.15,71.85 L300.65,71.00 L301.15,70.18 L301.65,69.37 L302.15,68.59 L302.65,67.83 L303.15,67.09 L303.65,66.37 L304.15,65.68 L304.65,65.01 L305.15,64.37 L305.65,63.75 L306.15,63.16 L306.65,62.59 L307.15,62.04 L307.65,61.50 L308.15,60.98 L308.65,60.48 L309.15,59.99 L309.65,59.52 L310.15,59.07 L310.65,58.63 L311.15,58.21 L311.65,57.81 L312.15,57.43 L312.65,57.06 L313.15,56.71 L313.65,56.37 L314.15,56.05 L314.65,55.75 L315.15,55.46 L315.65,55.19 L316.15,54.93 L316.65,54.69 L317.15,54.47 L317.65,54.26 L318.15,54.07 L318.65,53.89 L319.15,53.72 L319.65,53.57 L320.15,53.44 L320.65,53.32 L321.15,53.22 L321.65,53.12 L322.15,53.05 L322.65,52.98 L323.15,52.93 L323.65,52.90 L324.15,52.87 L324.65,52.86 L325.15,52.87 L325.65,52.88 L326.15,52.91 L326.65,52.95 L327.15,53.00 L327.65,53.07 L328.15,53.14 L328.65,53.23 L329.15,53.33 L329.65,53.44 L330.15,53.56 L330.65,53.69 L331.15,53.83 L331.65,53.98 L332.15,54.14 L332.65,54.31 L333.15,54.49 L333.65,54.67 L334.15,54.87 L334.65,55.08 L335.15,55.29 L335.65,55.51 L336.15,55.74 L336.65,55.98 L337.15,56.22 L337.65,56.48 L338.15,56.73 L338.65,57.00 L339.15,57.27 L339.65,57.55 L340.15,57.83 L340.65,58.12 L341.15,58.42 L341.65,58.72 L342.15,59.02 L342.65,59.34 L343.15,59.65 L343.65,59.97 L344.15,60.29 L344.65,60.62 L345.15,60.95 L345.65,61.29 L346.15,61.62 L346.65,61.96 L347.15,62.31 L347.65,62.65 L348.15,63.00 L348.65,63.36 L349.15,63.71 L349.65,64.06 L350.15,64.42 L350.65,64.78 L351.15,65.14 L351.65,65.50 L352.15,65.86 L352.65,66.22 L353.15,66.59 L353.65,66.95 L354.15,67.32 L354.65,67.68 L355.15,68.05 L355.65,68.41 L356.15,68.77 L356.65,69.14 L357.15,69.50 L357.65,69.86 L358.15,70.23 L358.65,70.59 L359.15,70.95 L359.65,71.31 L360.15,71.66 L360.65,72.02 L361.15,72.37 L361.65,72.73 L362.15,73.08 L362.65,73.43 L363.15,73.78 L363.65,74.12 L364.15,74.47 L364.65,74.81 L365.15,75.15 L365.65,75.48 L366.15,75.82 L366.65,76.15 L367.15,76.48 L367.65,76.81 L368.15,77.13 L368.65,77.45 L369.15,77.77 L369.65,78.09 L370.15,78.40 L370.65,78.72 L371.15,79.02 L371.65,79.33 L372.15,79.63 L372.65,79.93 L373.15,80.23 L373.65,80.52 L374.15,80.81 L374.65,81.10 L375.15,81.38 L375.65,81.66 L376.15,81.94 L376.65,82.21 L377.15,82.48 L377.65,82.75 L378.15,83.02 L378.65,83.28 L379.15,83.54 L379.65,83.79 L380.15,84.04 L380.65,84.29 L381.15,84.54 L381.65,84.78 L382.15,85.02 L382.65,85.25 L383.15,85.49 L383.65,85.71 L384.15,85.94 L384.65,86.16 L385.15,86.38 L385.65,86.60 L386.15,86.81 L386.65,87.02 L387.15,87.23 L387.65,87.44 L388.15,87.64 L388.65,87.84 L389.15,88.03 L389.65,88.22 L390.15,88.41 L390.65,88.60 L391.15,88.78 L391.65,88.96 L392.15,89.14 L392.65,89.32 L393.15,89.49 L393.65,89.66 L394.15,89.82 L394.65,89.99 L395.15,90.15 L395.65,90.31 L396.15,90.46 L396.65,90.61 L397.15,90.76 L397.65,90.90 L398.15,91.04 L398.65,91.18 L399.15,91.31 L399.65,91.45 L400.15,91.57 L400.65,91.70 L401.15,91.82 L401.65,91.94 L402.15,92.06 L402.65,92.17 L403.15,92.29 L403.65,92.39 L404.15,92.50 L404.65,92.61 L405.15,92.71 L405.65,92.81 L406.15,92.91 L406.65,93.00 L407.15,93.09 L407.65,93.19 L408.15,93.28 L408.65,93.36 L409.15,93.45 L409.65,93.53 L410.15,93.61 L410.65,93.70 L411.15,93.77 L411.65,93.85 L412.15,93.93 L412.65,94.00 L413.15,94.08 L413.65,94.15 L414.15,94.22 L414.65,94.29 L415.15,94.36 L415.65,94.43 L416.15,94.50 L416.65,94.56 L417.15,94.63 L417.65,94.69 L418.15,94.76 L418.65,94.82 L419.15,94.88 L419.65,94.95 L420.15,95.01 L420.65,95.07 L421.15,95.13 L421.65,95.19 L422.15,95.25 L422.65,95.30 L423.15,95.36 L423.65,95.41 L424.15,95.47 L424.65,95.52 L425.15,95.57 L425.65,95.62 L426.15,95.67 L426.65,95.71 L427.15,95.76 L427.65,95.81 L428.15,95.85 L428.65,95.90 L429.15,95.94 L429.65,95.98 L430.15,96.02 L430.65,96.06 L431.15,96.10 L431.65,96.14 L432.15,96.18 L432.65,96.22 L433.15,96.25 L433.65,96.29 L434.15,96.32 L434.65,96.36 L435.15,96.39 L435.65,96.42 L436.15,96.45 L436.65,96.49 L437.15,96.52 L437.65,96.55 L438.15,96.58 L438.65,96.60 L439.15,96.63 L439.65,96.66 L440.15,96.69 L440.65,96.71 L441.15,96.74 L441.65,96.76 L442.15,96.79 L442.65,96.81 L443.15,96.84 L443.65,96.86 L444.15,96.88 L444.65,96.90 L445.15,96.93 L445.65,96.95 L446.15,96.97 L446.65,96.99 L447.15,97.01 L447.65,97.03 L448.15,97.05 L448.65,97.07 L449.15,97.08 L449.65,97.10 L450.15,97.12 L450.65,97.14 L451.15,97.15 L451.65,97.17 L452.15,97.19 L452.65,97.20 L453.15,97.22 L453.65,97.23 L454.15,97.25 L454.65,97.26 L455.15,97.28 L455.65,97.29 L456.15,97.30 L456.65,97.32 L457.15,97.33 L457.65,97.34 L458.15,97.36 L458.65,97.37 L459.15,97.38 L459.65,97.39 L460.15,97.40 L460.65,97.41 L461.15,97.42 L461.65,97.44 L462.15,97.45 L462.65,97.46 L463.15,97.47 L463.65,97.48 L464.15,97.49 L464.65,97.50 L465.15,97.50 L465.65,97.51 L466.15,97.52 L466.65,97.53 L467.15,97.54 L467.65,97.55 L468.15,97.56 L468.65,97.56 L469.15,97.57 L469.65,97.58 L470.15,97.59 L470.65,97.59 L471.15,97.60 L471.65,97.61 L472.15,97.62 L472.65,97.62 L473.15,97.63 L473.65,97.64 L474.15,97.64 L474.65,97.65 L475.15,97.65 L475.65,97.66 L476.15,97.67 L476.65,97.67 L477.15,97.68 L477.65,97.68" stroke="#0000ff" stroke-width="2.3" stroke-dasharray="3.4 2.86" stroke-dashoffset="2.88" stroke-linecap="butt"/>
<path d="M59.65,99.59 L60.15,99.60 L60.65,99.61 L61.15,99.62 L61.65,99.62 L62.15,99.63 L62.65,99.64 L63.15,99.66 L63.65,99.67 L64.15,99.68 L64.65,99.69 L65.15,99.70 L65.65,99.71 L66.15,99.72 L66.65,99.74 L67.15,99.75 L67.65,99.76 L68.15,99.78 L68.65,99.79 L69.15,99.80 L69.65,99.82 L70.15,99.83 L70.65,99.85 L71.15,99.87 L71.65,99.88 L72.15,99.90 L72.65,99.92 L73.15,99.93 L73.65,99.95 L74.15,99.97 L74.65,99.99 L75.15,100.01 L75.65,100.03 L76.15,100.05 L76.65,100.07 L77.15,100.10 L77.65,100.12 L78.15,100.14 L78.65,100.17 L79.15,100.19 L79.65,100.22 L80.15,100.24 L80.65,100.27 L81.15,100.30 L81.65,100.33 L82.15,100.36 L82.65,100.39 L83.15,100.42 L83.65,100.45 L84.15,100.48 L84.65,100.51 L85.15,100.55 L85.65,100.58 L86.15,100.62 L86.65,100.66 L87.15,100.69 L87.65,100.73 L88.15,100.77 L88.65,100.81 L89.15,100.86 L89.65,100.90 L90.15,100.94 L90.65,100.99 L91.15,101.03 L91.65,101.08 L92.15,101.13 L92.65,101.18 L93.15,101.23 L93.65,101.28 L94.15,101.33 L94.65,101.38 L95.15,101.43 L95.65,101.49 L96.15,101.54 L96.65,101.60 L97.15,101.66 L97.65,101.72 L98.15,101.78 L98.65,101.84 L99.15,101.90 L99.65,101.96 L100.15,102.03 L100.65,102.10 L101.15,102.16 L101.65,102.23 L102.15,102.30 L102.65,102.37 L103.15,102.45 L103.65,102.52 L104.15,102.60 L104.65,102.68 L105.15,102.76 L105.65,102.84 L106.15,102.92 L106.65,103.00 L107.15,103.09 L107.65,103.18 L108.15,103.26 L108.65,103.36 L109.15,103.45 L109.65,103.54 L110.15,103.64 L110.65,103.74 L111.15,103.84 L111.65,103.94 L112.15,104.05 L112.65,104.15 L113.15,104.26 L113.65,104.37 L114.15,104.48 L114.65,104.60 L115.15,104.72 L115.65,104.84 L116.15,104.96 L116.65,105.08 L117.15,105.21 L117.65,105.34 L118.15,105.47 L118.65,105.61 L119.15,105.75 L119.65,105.89 L120.15,106.03 L120.65,106.18 L121.15,106.33 L121.65,106.48 L122.15,106.63 L122.65,106.79 L123.15,106.95 L123.65,107.12 L124.15,107.28 L124.65,107.46 L125.15,107.63 L125.65,107.81 L126.15,107.99 L126.65,108.17 L127.15,108.36 L127.65,108.56 L128.15,108.75 L128.65,108.95 L129.15,109.16 L129.65,109.36 L130.15,109.57 L130.65,109.79 L131.15,110.01 L131.65,110.24 L132.15,110.46 L132.65,110.70 L133.15,110.94 L133.65,111.18 L134.15,111.43 L134.65,111.68 L135.15,111.93 L135.65,112.20 L136.15,112.46 L136.65,112.73 L137.15,113.01 L137.65,113.29 L138.15,113.58 L138.65,113.87 L139.15,114.17 L139.65,114.48 L140.15,114.79 L140.65,115.10 L141.15,115.43 L141.65,115.75 L142.15,116.09 L142.65,116.43 L143.15,116.77 L143.65,117.13 L144.15,117.48 L144.65,117.85 L145.15,118.22 L145.65,118.60 L146.15,118.99 L146.65,119.38 L147.15,119.78 L147.65,120.19 L148.15,120.60 L148.65,121.02 L149.15,121.45 L149.65,121.89 L150.15,122.34 L150.65,122.79 L151.15,123.25 L151.65,123.72 L152.15,124.19 L152.65,124.68 L153.15,125.17 L153.65,125.67 L154.15,126.18 L154.65,126.70 L155.15,127.22 L155.65,127.76 L156.15,128.30 L156.65,128.86 L157.15,129.42 L157.65,129.99 L158.15,130.57 L158.65,131.16 L159.15,131.76 L159.65,132.36 L160.15,132.98 L160.65,133.61 L161.15,134.25 L161.65,134.89 L162.15,135.55 L162.65,136.21 L163.15,136.89 L163.65,137.58 L164.15,138.27 L164.65,138.98 L165.15,139.69 L165.65,140.42 L166.15,141.16 L166.65,141.90 L167.15,142.66 L167.65,143.42 L168.15,144.20 L168.65,144.99 L169.15,145.79 L169.65,146.59 L170.15,147.41 L170.65,148.24 L171.15,149.08 L171.65,149.92 L172.15,150.78 L172.65,151.65 L173.15,152.53 L173.65,153.42 L174.15,154.32 L174.65,155.22 L175.15,156.14 L175.65,157.07 L176.15,158.01 L176.65,158.95 L177.15,159.91 L177.65,160.87 L178.15,161.84 L178.65,162.83 L179.15,163.82 L179.65,164.82 L180.15,165.82 L180.65,166.84 L181.15,167.86 L181.65,168.90 L182.15,169.93 L182.65,170.98 L183.15,172.03 L183.65,173.09 L184.15,174.16 L184.65,175.23 L185.15,176.31 L185.65,177.39 L186.15,178.48 L186.65,179.57 L187.15,180.67 L187.65,181.77 L188.15,182.88 L188.65,183.98 L189.15,185.09 L189.65,186.21 L190.15,187.32 L190.65,188.44 L191.15,189.56 L191.65,190.68 L192.15,191.80 L192.65,192.91 L193.15,194.03 L193.65,195.15 L194.15,196.26 L194.65,197.37 L195.15,198.48 L195.65,199.58 L196.15,200.68 L196.65,201.78 L197.15,202.87 L197.65,203.95 L198.15,205.03 L198.65,206.10 L199.15,207.16 L199.65,208.21 L200.15,209.25 L200.65,210.29 L201.15,211.31 L201.65,212.32 L202.15,213.32 L202.65,214.31 L203.15,215.28 L203.65,216.24 L204.15,217.18 L204.65,218.11 L205.15,219.03 L205.65,219.92 L206.15,220.80 L206.65,221.67 L207.15,222.51 L207.65,223.33 L208.15,224.13 L208.65,224.92 L209.15,225.68 L209.65,226.42 L210.15,227.13 L210.65,227.83 L211.15,228.50 L211.65,229.14 L212.15,229.76 L212.65,230.36 L213.15,230.93 L213.65,231.47 L214.15,231.98 L214.65,232.47 L215.15,232.93 L215.65,233.36 L216.15,233.76 L216.65,234.13 L217.15,234.48 L217.65,234.79 L218.15,235.07 L218.65,235.32 L219.15,235.54 L219.65,235.73 L220.15,235.89 L220.65,236.01 L221.15,236.10 L221.65,236.16 L222.15,236.19 L222.65,236.19 L223.15,236.15 L223.65,236.08 L224.15,235.98 L224.65,235.85 L225.15,235.68 L225.65,235.48 L226.15,235.24 L226.65,234.98 L227.15,234.68 L227.65,234.35 L228.15,233.99 L228.65,233.59 L229.15,233.17 L229.65,232.71 L230.15,232.22 L230.65,231.70 L231.15,231.16 L231.65,230.58 L232.15,229.97 L232.65,229.33 L233.15,228.66 L233.65,227.96 L234.15,227.24 L234.65,226.49 L235.15,225.71 L235.65,224.90 L236.15,224.07 L236.65,223.21 L237.15,222.33 L237.65,221.42 L238.15,220.49 L238.65,219.54 L239.15,218.56 L239.65,217.56 L240.15,216.54 L240.65,215.49 L241.15,214.43 L241.65,213.35 L242.15,212.25 L242.65,211.13 L243.15,209.99 L243.65,208.83 L244.15,207.66 L244.65,206.47 L245.15,205.27 L245.65,204.05 L246.15,202.82 L246.65,201.58 L247.15,200.32 L247.65,199.05 L248.15,197.77 L248.65,196.47 L249.15,195.17 L249.65,193.86 L250.15,192.54 L250.65,191.21 L251.15,189.87 L251.65,188.52 L252.15,187.17 L252.65,185.81 L253.15,184.45 L253.65,183.08 L254.15,181.70 L254.65,180.33 L255.15,178.94 L255.65,177.56 L256.15,176.17 L256.65,174.78 L257.15,173.39 L257.65,172.00 L258.15,170.61 L258.65,169.21 L259.15,167.82 L259.65,166.43 L260.15,165.03 L260.65,163.64 L261.15,162.25 L261.65,160.87 L262.15,159.48 L262.65,158.10 L263.15,156.72 L263.65,155.34 L264.15,153.97 L264.65,152.60 L265.15,151.24 L265.65,149.88 L266.15,148.52 L266.65,147.17 L267.15,145.83 L267.65,144.49 L268.15,143.16 L268.65,141.83 L269.15,140.51 L269.65,139.19 L270.15,137.88 L270.65,136.58 L271.15,135.29 L271.65,134.00 L272.15,132.72 L272.65,131.45 L273.15,130.18 L273.65,128.93 L274.15,127.68 L274.65,126.43 L275.15,125.20 L275.65,123.98 L276.15,122.76 L276.65,121.55 L277.15,120.35 L277.65,119.16 L278.15,117.98 L278.65,116.81 L279.15,115.65 L279.65,114.50 L280.15,113.35 L280.65,112.22 L281.15,111.09 L281.65,109.98 L282.15,108.87 L282.65,107.78 L283.15,106.69 L283.65,105.62 L284.15,104.55 L284.65,103.50 L285.15,102.45 L285.65,101.42 L286.15,100.40 L286.65,99.39 L287.15,98.38 L287.65,97.39 L288.15,96.42 L288.65,95.45 L289.15,94.49 L289.65,93.54 L290.15,92.61 L290.65,91.69 L291.15,90.78 L291.65,89.88 L292.15,88.99 L292.65,88.11 L293.15,87.25 L293.65,86.40 L294.15,85.56 L294.65,84.73 L295.15,83.92 L295.65,83.11 L296.15,82.32 L296.65,81.55 L297.15,80.78 L297.65,80.03 L298.15,79.29 L298.65,78.57 L299.15,77.86 L299.65,77.16 L300.15,76.47 L300.65,75.80 L301.15,75.14 L301.65,74.50 L302.15,73.87 L302.65,73.25 L303.15,72.65 L303.65,72.06 L304.15,71.48 L304.65,70.92 L305.15,70.37 L305.65,69.84 L306.15,69.32 L306.65,68.81 L307.15,68.32 L307.65,67.85 L308.15,67.39 L308.65,66.94 L309.15,66.50 L309.65,66.09 L310.15,65.68 L310.65,65.29 L311.15,64.92 L311.65,64.56 L312.15,64.21 L312.65,63.88 L313.15,63.56 L313.65,63.26 L314.15,62.97 L314.65,62.69 L315.15,62.43 L315.65,62.18 L316.15,61.95 L316.65,61.73 L317.15,61.53 L317.65,61.34 L318.15,61.16 L318.65,61.00 L319.15,60.85 L319.65,60.71 L320.15,60.59 L320.65,60.48 L321.15,60.38 L321.65,60.30 L322.15,60.22 L322.65,60.17 L323.15,60.12 L323.65,60.08 L324.15,60.06 L324.65,60.05 L325.15,60.05 L325.65,60.07 L326.15,60.09 L326.65,60.13 L327.15,60.17 L327.65,60.23 L328.15,60.30 L328.65,60.38 L329.15,60.46 L329.65,60.56 L330.15,60.67 L330.65,60.79 L331.15,60.91 L331.65,61.05 L332.15,61.19 L332.65,61.35 L333.15,61.51 L333.65,61.68 L334.15,61.85 L334.65,62.04 L335.15,62.23 L335.65,62.43 L336.15,62.63 L336.65,62.85 L337.15,63.07 L337.65,63.29 L338.15,63.52 L338.65,63.76 L339.15,64.00 L339.65,64.25 L340.15,64.50 L340.65,64.76 L341.15,65.02 L341.65,65.29 L342.15,65.56 L342.65,65.83 L343.15,66.11 L343.65,66.39 L344.15,66.67 L344.65,66.96 L345.15,67.25 L345.65,67.54 L346.15,67.84 L346.65,68.14 L347.15,68.44 L347.65,68.74 L348.15,69.04 L348.65,69.34 L349.15,69.65 L349.65,69.96 L350.15,70.26 L350.65,70.57 L351.15,70.88 L351.65,71.19 L352.15,71.50 L352.65,71.81 L353.15,72.12 L353.65,72.43 L354.15,72.74 L354.65,73.05 L355.15,73.36 L355.65,73.67 L356.15,73.98 L356.65,74.29 L357.15,74.59 L357.65,74.90 L358.15,75.20 L358.65,75.50 L359.15,75.80 L359.65,76.10 L360.15,76.40 L360.65,76.70 L361.15,76.99 L361.65,77.29 L362.15,77.58 L362.65,77.87 L363.15,78.15 L363.65,78.44 L364.15,78.72 L364.65,79.00 L365.15,79.28 L365.65,79.56 L366.15,79.83 L366.65,80.11 L367.15,80.38 L367.65,80.64 L368.15,80.91 L368.65,81.17 L369.15,81.43 L369.65,81.69 L370.15,81.94 L370.65,82.19 L371.15,82.44 L371.65,82.69 L372.15,82.93 L372.65,83.17 L373.15,83.41 L373.65,83.65 L374.15,83.88 L374.65,84.11 L375.15,84.34 L375.65,84.56 L376.15,84.78 L376.65,85.00 L377.15,85.22 L377.65,85.43 L378.15,85.65 L378.65,85.85 L379.15,86.06 L379.65,86.26 L380.15,86.46 L380.65,86.66 L381.15,86.86 L381.65,87.05 L382.15,87.24 L382.65,87.42 L383.15,87.61 L383.65,87.79 L384.15,87.97 L384.65,88.15 L385.15,88.32 L385.65,88.49 L386.15,88.66 L386.65,88.83 L387.15,88.99 L387.65,89.15 L388.15,89.31 L388.65,89.47 L389.15,89.62 L389.65,89.77 L390.15,89.92 L390.65,90.07 L391.15,90.22 L391.65,90.36 L392.15,90.50 L392.65,90.64 L393.15,90.77 L393.65,90.91 L394.15,91.04 L394.65,91.17 L395.15,91.30 L395.65,91.42 L396.15,91.54 L396.65,91.66 L397.15,91.78 L397.65,91.89 L398.15,92.00 L398.65,92.11 L399.15,92.22 L399.65,92.32 L400.15,92.42 L400.65,92.52 L401.15,92.61 L401.65,92.71 L402.15,92.80 L402.65,92.89 L403.15,92.97 L403.65,93.06 L404.15,93.14 L404.65,93.22 L405.15,93.30 L405.65,93.38 L406.15,93.46 L406.65,93.53 L407.15,93.61 L407.65,93.68 L408.15,93.75 L408.65,93.82 L409.15,93.88 L409.65,93.95 L410.15,94.01 L410.65,94.08 L411.15,94.14 L411.65,94.20 L412.15,94.26 L412.65,94.32 L413.15,94.38 L413.65,94.44 L414.15,94.49 L414.65,94.55 L415.15,94.60 L415.65,94.66 L416.15,94.71 L416.65,94.77 L417.15,94.82 L417.65,94.87 L418.15,94.93 L418.65,94.98 L419.15,95.03 L419.65,95.08 L420.15,95.13 L420.65,95.18 L421.15,95.23 L421.65,95.28 L422.15,95.33 L422.65,95.38 L423.15,95.43 L423.65,95.47 L424.15,95.52 L424.65,95.56 L425.15,95.60 L425.65,95.65 L426.15,95.69 L426.65,95.73 L427.15,95.77 L427.65,95.81 L428.15,95.85 L428.65,95.88 L429.15,95.92 L429.65,95.96 L430.15,95.99 L430.65,96.03 L431.15,96.06 L431.65,96.10 L432.15,96.13 L432.65,96.16 L433.15,96.19 L433.65,96.22 L434.15,96.26 L434.65,96.29 L435.15,96.31 L435.65,96.34 L436.15,96.37 L436.65,96.40 L437.15,96.43 L437.65,96.45 L438.15,96.48 L438.65,96.51 L439.15,96.53 L439.65,96.56 L440.15,96.58 L440.65,96.61 L441.15,96.63 L441.65,96.65 L442.15,96.68 L442.65,96.70 L443.15,96.72 L443.65,96.74 L444.15,96.76 L444.65,96.78 L445.15,96.80 L445.65,96.82 L446.15,96.84 L446.65,96.86 L447.15,96.88 L447.65,96.90 L448.15,96.92 L448.65,96.94 L449.15,96.95 L449.65,96.97 L450.15,96.99 L450.65,97.00 L451.15,97.02 L451.65,97.04 L452.15,97.05 L452.65,97.07 L453.15,97.08 L453.65,97.10 L454.15,97.11 L454.65,97.13 L455.15,97.14 L455.65,97.15 L456.15,97.17 L456.65,97.18 L457.15,97.19 L457.65,97.21 L458.15,97.22 L458.65,97.23 L459.15,97.24 L459.65,97.25 L460.15,97.27 L460.65,97.28 L461.15,97.29 L461.65,97.30 L462.15,97.31 L462.65,97.32 L463.15,97.33 L463.65,97.34 L464.15,97.35 L464.65,97.36 L465.15,97.37 L465.65,97.38 L466.15,97.39 L466.65,97.40 L467.15,97.41 L467.65,97.42 L468.15,97.43 L468.65,97.44 L469.15,97.44 L469.65,97.45 L470.15,97.46 L470.65,97.47 L471.15,97.48 L471.65,97.48 L472.15,97.49 L472.65,97.50 L473.15,97.51 L473.65,97.51 L474.15,97.52 L474.65,97.53 L475.15,97.53 L475.65,97.54 L476.15,97.55 L476.65,97.55 L477.15,97.56 L477.65,97.57" stroke="#008080" stroke-width="2.3" stroke-dasharray="3.3 3.3 6.8 2.8" stroke-dashoffset="14.23" stroke-linecap="butt"/>
</g>
<line x1="61.15" y1="98.36" x2="476.5" y2="98.36" stroke="#000" stroke-width="0.9"/>
<path d="M61.15,39.6V296.84999999999997M476.5,39.6V296.84999999999997M60.75,40.0H476.9M60.75,296.45H476.9" fill="none" stroke="#666" stroke-width="0.8"/>
<path d="M61.50,296.45v-4.8M61.50,40.0v4.8M75.50,296.45v-3.0M75.50,40.0v3.0M90.50,296.45v-3.0M90.50,40.0v3.0M105.50,296.45v-3.0M105.50,40.0v3.0M120.50,296.45v-4.8M120.50,40.0v4.8M135.50,296.45v-3.0M135.50,40.0v3.0M150.50,296.45v-3.0M150.50,40.0v3.0M164.50,296.45v-3.0M164.50,40.0v3.0M179.50,296.45v-4.8M179.50,40.0v4.8M194.50,296.45v-3.0M194.50,40.0v3.0M209.50,296.45v-3.0M209.50,40.0v3.0M224.50,296.45v-3.0M224.50,40.0v3.0M239.50,296.45v-4.8M239.50,40.0v4.8M253.50,296.45v-3.0M253.50,40.0v3.0M268.50,296.45v-3.0M268.50,40.0v3.0M283.50,296.45v-3.0M283.50,40.0v3.0M298.50,296.45v-4.8M298.50,40.0v4.8M313.50,296.45v-3.0M313.50,40.0v3.0M328.50,296.45v-3.0M328.50,40.0v3.0M342.50,296.45v-3.0M342.50,40.0v3.0M357.50,296.45v-4.8M357.50,40.0v4.8M372.50,296.45v-3.0M372.50,40.0v3.0M387.50,296.45v-3.0M387.50,40.0v3.0M402.50,296.45v-3.0M402.50,40.0v3.0M417.50,296.45v-4.8M417.50,40.0v4.8M431.50,296.45v-3.0M431.50,40.0v3.0M446.50,296.45v-3.0M446.50,40.0v3.0M461.50,296.45v-3.0M461.50,40.0v3.0M476.50,296.45v-4.8M476.50,40.0v4.8M61.15,293.50h3.0M476.5,293.50h-3.0M61.15,283.50h4.8M476.5,283.50h-4.8M61.15,274.50h3.0M476.5,274.50h-3.0M61.15,265.50h3.0M476.5,265.50h-3.0M61.15,255.50h3.0M476.5,255.50h-3.0M61.15,246.50h4.8M476.5,246.50h-4.8M61.15,237.50h3.0M476.5,237.50h-3.0M61.15,228.50h3.0M476.5,228.50h-3.0M61.15,218.50h3.0M476.5,218.50h-3.0M61.15,209.50h4.8M476.5,209.50h-4.8M61.15,200.50h3.0M476.5,200.50h-3.0M61.15,191.50h3.0M476.5,191.50h-3.0M61.15,181.50h3.0M476.5,181.50h-3.0M61.15,172.50h4.8M476.5,172.50h-4.8M61.15,163.50h3.0M476.5,163.50h-3.0M61.15,153.50h3.0M476.5,153.50h-3.0M61.15,144.50h3.0M476.5,144.50h-3.0M61.15,135.50h4.8M476.5,135.50h-4.8M61.15,126.50h3.0M476.5,126.50h-3.0M61.15,116.50h3.0M476.5,116.50h-3.0M61.15,107.50h3.0M476.5,107.50h-3.0M61.15,98.50h4.8M476.5,98.50h-4.8M61.15,89.50h3.0M476.5,89.50h-3.0M61.15,79.50h3.0M476.5,79.50h-3.0M61.15,70.50h3.0M476.5,70.50h-3.0M61.15,61.50h4.8M476.5,61.50h-4.8M61.15,52.50h3.0M476.5,52.50h-3.0M61.15,42.50h3.0M476.5,42.50h-3.0" stroke="#666" stroke-width="0.8" fill="none"/>
<text class="tk" x="61.80" y="314.8" text-anchor="middle">14<tspan dx="2.3">000</tspan></text>
<text class="tk" x="121.14" y="314.8" text-anchor="middle">14<tspan dx="2.3">200</tspan></text>
<text class="tk" x="180.47" y="314.8" text-anchor="middle">14<tspan dx="2.3">400</tspan></text>
<text class="tk" x="239.81" y="314.8" text-anchor="middle">14<tspan dx="2.3">600</tspan></text>
<text class="tk" x="299.14" y="314.8" text-anchor="middle">14<tspan dx="2.3">800</tspan></text>
<text class="tk" x="358.48" y="314.8" text-anchor="middle">15<tspan dx="2.3">000</tspan></text>
<text class="tk" x="417.81" y="314.8" text-anchor="middle">15<tspan dx="2.3">200</tspan></text>
<text class="tk" x="477.15" y="314.8" text-anchor="middle">15<tspan dx="2.3">400</tspan></text>
<text class="tk" x="57.3" y="289.01" text-anchor="end">−1.0</text>
<text class="tk" x="57.3" y="251.93" text-anchor="end">−0.8</text>
<text class="tk" x="57.3" y="214.85" text-anchor="end">−0.6</text>
<text class="tk" x="57.3" y="177.77" text-anchor="end">−0.4</text>
<text class="tk" x="57.3" y="140.69" text-anchor="end">−0.2</text>
<text class="tk" x="57.3" y="103.61" text-anchor="end">0.0</text>
<text class="tk" x="57.3" y="66.53" text-anchor="end">0.2</text>
<text class="ax" y="342.1"><tspan x="201.4">Frequency</tspan><tspan x="277.2" font-style="italic">ω</tspan><tspan x="292.5">(cm</tspan><tspan x="317.9" font-size="9.9" dy="-5.6">−1</tspan><tspan x="330.2" dy="5.6">)</tspan></text>
<text class="ax" transform="translate(14.2,168.1) rotate(-90)" text-anchor="middle">Transient Absorption (a.u.)</text>
<line x1="313.1" y1="154.50" x2="363.6" y2="154.50" stroke="#000000" stroke-width="2.3" stroke-linecap="butt"/>
<text class="lg" x="372.0" y="159.00"><tspan font-style="italic">τ</tspan><tspan font-size="10.7" dy="2.45">del</tspan><tspan dy="-2.45" dx="1.2">=</tspan><tspan dx="5.8">100</tspan><tspan dx="3.3">fs</tspan></text>
<line x1="313.1" y1="180.27" x2="360.7" y2="180.27" stroke="#ff0000" stroke-width="2.3" stroke-dasharray="7.3 2.67" stroke-linecap="butt"/>
<text class="lg" x="372.0" y="184.77"><tspan font-style="italic">τ</tspan><tspan font-size="10.7" dy="2.45">del</tspan><tspan dy="-2.45" dx="1.2">=</tspan><tspan dx="5.8">180</tspan><tspan dx="3.3">fs</tspan></text>
<line x1="313.1" y1="206.04" x2="360.7" y2="206.04" stroke="#0000ff" stroke-width="2.3" stroke-dasharray="3.4 2.86" stroke-linecap="butt"/>
<text class="lg" x="372.0" y="210.54"><tspan font-style="italic">τ</tspan><tspan font-size="10.7" dy="2.45">del</tspan><tspan dy="-2.45" dx="1.2">=</tspan><tspan dx="4.8">220</tspan><tspan dx="4.3">fs</tspan></text>
<line x1="313.1" y1="231.81" x2="360.7" y2="231.81" stroke="#008080" stroke-width="2.3" stroke-dasharray="3.3 3.3 6.8 2.8" stroke-linecap="butt"/>
<text class="lg" x="372.0" y="236.31"><tspan font-style="italic">τ</tspan><tspan font-size="10.7" dy="2.45">del</tspan><tspan dy="-2.45" dx="1.2">=</tspan><tspan dx="4.8">500</tspan><tspan dx="4.3">fs</tspan></text>
</svg></body></html>
